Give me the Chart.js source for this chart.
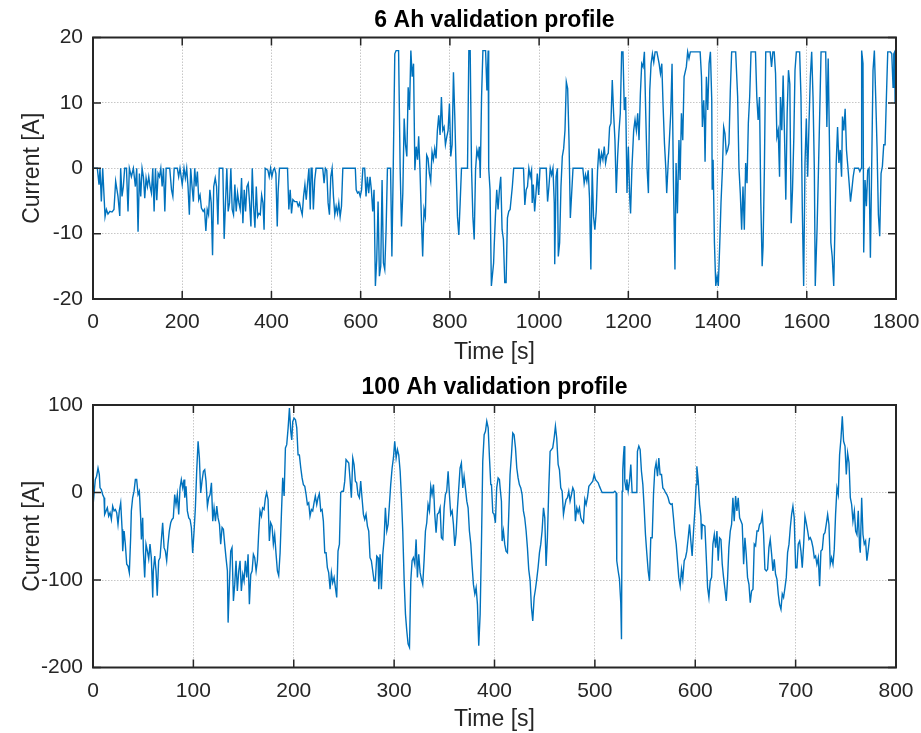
<!DOCTYPE html>
<html>
<head>
<meta charset="utf-8">
<script src="https://cdn.jsdelivr.net/npm/chart.js@4/dist/chart.umd.min.js"></script>
<style>
  html, body { margin: 0; padding: 0; background: #fff; }
  #wrap { position: relative; width: 921px; height: 733px; overflow: hidden; }
  canvas { position: absolute; left: 0; }
  #top { top: 0; }
  #bottom { top: 366px; }
</style>
</head>
<body>
<div id="wrap">
  <canvas id="top" width="921" height="366"></canvas>
  <canvas id="bottom" width="921" height="367"></canvas>
</div>
<script>

// [time s, current A]
const profile6Ah = [
  [0,0],[9.7,0],[13.5,-2.5],[15.7,0],[18.7,-5.1],[21.7,0],[27,-7.4],[30,-6.3],[33.6,-7],[38,-6.6],[42.6,-6.7],[47,-6.3],[50.8,-2],[56,-4.3],[60,-7.3],[62,0],[65,-4.3],[68,-2.8],[71,0],[75,0],[78.5,-6.6],[81.5,0],[86,-1.3],[90.5,0],[95,-2.8],[98,0],[101,-9.7],[104,-0.8],[107,-4.3],[110,0],[113,-1.3],[116,-4.6],[119,-1.5],[122,-2.8],[125,-1.3],[128,-2.8],[131,-3.8],[134,0],[137,-6.6],[140,0],[143,-4.9],[146,-0.8],[149,-1.3],[152,0],[155,-2.8],[158,0],[161,-6.6],[164,0],[172,0],[176,-3.3],[179,-4.3],[182,0],[189,0],[192,-1.3],[195,0],[200,-2.5],[204,0],[207,-1.5],[210,0],[213,-2.8],[216,-7.1],[219,0],[222,-2.8],[225,-5.1],[228,0],[231,-2.8],[234,-0.5],[237,-4.8],[240,-4.1],[243,-6.1],[247,-6.6],[250,-6.3],[253,-9.6],[256,-6.3],[259,-7.1],[262,-3.3],[265,-5.3],[268,-13.3],[270.6,-2.8],[274,-1.5],[277,-2.8],[280,-8.6],[283,0],[291,0],[294,-10.8],[297,-5.3],[300,0],[303,-6.6],[306,-5.3],[309,0],[312,-6.3],[315,-7.1],[318,-2.5],[321,-6.6],[324,-3.8],[327,-5.3],[330,-6.3],[333,-1.5],[336,-8.4],[339,-3.3],[342,-6.6],[345,-2.8],[348,-2.3],[351,-5.3],[354,-8.9],[357,0],[360,-5.8],[363,-9.1],[366,-2.8],[369,-7.4],[372,-6.9],[375,-7.1],[378,-4.1],[381,-5.3],[383.5,-9.4],[386,0],[392,-0.3],[395,-1.3],[398,0],[401,-1.3],[404,-0.3],[407,0],[410,-0.8],[413,-8.9],[415,-3.6],[418,0],[436,0],[439,-6.3],[442,-3.3],[445,-6.9],[448,-4.8],[452,-5.1],[457,-5.1],[460,-5.8],[463,-5.3],[466,-6.3],[469,-7.1],[472,-4.3],[475,-2.5],[478,-4.8],[481,-2.3],[484,0],[487,-6.3],[489,0],[491,0],[494,-6.3],[497,-1.8],[500,0],[515,0],[518,-2.3],[521,0],[524,-0.3],[527,-5.3],[530,-7.1],[533,-1.3],[536,0],[539,-4.3],[542,-7.1],[545,-5.8],[548,-6.9],[551,-5.3],[554,-7.4],[557,-5.8],[560,0],[588,0],[590,-3.3],[593,-3.8],[596,-3.6],[599,-4.3],[602,-3.3],[605,0],[609,0],[612,-4.3],[615,-1.3],[618,-3.8],[621,-1.3],[624,-3.3],[627,-6.6],[630,-3.3],[633,-18],[636,-14],[639,-5.1],[642,-16.5],[645,-15],[648,-1.8],[651,-14.5],[654,-15.5],[657,-9.4],[660,0],[667,0],[670,-13.5],[673,0],[676.5,17.5],[679.5,18],[685,18],[688.5,0],[691.5,-8.9],[694.5,-3.8],[697.5,7.6],[700.5,3.6],[703.5,1.8],[706.5,12.4],[709.5,8.9],[712.5,18],[715.5,14],[718.5,16],[721.5,-0.3],[724.5,3.3],[727.5,1.3],[730,4.9],[733,-0.3],[736,-7.4],[739,-13.5],[742,-6.3],[745,-7.4],[748,2],[751,1.5],[754,-0.8],[757,-2],[760,2.5],[763,1.3],[766,3],[769,1.5],[772,5.8],[775,8.1],[778,5.1],[781,10.9],[784,5.8],[787,6.3],[790,3.6],[793,4.8],[796,5.8],[799,9.9],[802,1.8],[805,3.6],[808,14.7],[811,7.9],[814,-0.3],[817,-7.4],[820,-10.2],[823,-5.3],[826,0],[839.5,0],[842.5,18],[845.5,18],[848.5,0],[851.5,-7.4],[854.5,-10.9],[857.5,-0.3],[860.5,2.8],[863.4,1.8],[866,3.3],[868,-1.5],[871,10.9],[874,18],[880,18],[883,11.9],[885.8,18],[887,0],[890,-3.3],[893,-18],[898,-14.5],[899.3,-11.9],[902,-7.4],[905,-3.3],[908,-6.3],[911,-3.3],[914,-1.3],[917,-9.4],[920,-10.9],[923,-17.5],[926,-17.5],[929,-7.6],[932,-6.6],[935,-6.3],[940,-2.8],[943,0],[965,0],[968,-5.6],[971,-3.3],[974,-2.8],[977,0],[980,-1.3],[983,-0.3],[984.5,-5.3],[987,-2.5],[990,-6.6],[993,-3.8],[996,-0.8],[999,-4.1],[1002,0],[1016,0],[1019,-5.1],[1022,-2.8],[1025,0],[1028,-1],[1031,0],[1034,-5.3],[1035,-14.7],[1038,-1.3],[1041,0],[1043,-13.5],[1046,-11.4],[1049,-2.8],[1052,1.8],[1055,3],[1058,5.8],[1061,13.2],[1064,12.2],[1067,4.3],[1070,-7.6],[1073,-3.8],[1076,0],[1098,0],[1101,-2.3],[1104,-1],[1107,-2],[1110,-0.3],[1113,-4.6],[1116,-15.5],[1119,0],[1122,-7.4],[1125,-9.4],[1128,-6.6],[1131,-0.3],[1134,3],[1137,0.8],[1140,2.3],[1143,1.3],[1146,3.3],[1149,0.8],[1152,2],[1155,2.3],[1158,6.3],[1161,6.9],[1164,13.5],[1167,8.4],[1170,4.3],[1173,-3.8],[1176,1.8],[1179,5.6],[1182,8.4],[1185,17.8],[1188,17.8],[1191,8.9],[1194,10.9],[1197,-3.8],[1200,3.3],[1203,-4.3],[1205,-6.9],[1208,0],[1212,5.8],[1215,7.4],[1218,5.8],[1221,8.4],[1224,4.3],[1227,11.4],[1230,16],[1233,15.5],[1236,17.8],[1239,8.4],[1242,0],[1245,-3.8],[1248,11.9],[1251,16],[1254,17.5],[1257,16.2],[1260,17.8],[1264,17.8],[1269,16],[1272,14.5],[1275,16],[1278,9.4],[1281,3.8],[1284,0],[1286,-3.8],[1289,0.3],[1292,4.3],[1295,8.4],[1298,16],[1301,-1.8],[1304.5,-15.5],[1307,0.8],[1310,-6.9],[1313.5,4.3],[1316,-1.8],[1319,8.4],[1322,4.3],[1325,14],[1330,15.5],[1333,17.8],[1336,16.8],[1339,17.8],[1361,17.8],[1364,14],[1366,6.3],[1369,10.4],[1370.5,7.4],[1372,1],[1375,14],[1378,8.9],[1381,16],[1384,17.8],[1387,10.4],[1388,-3.3],[1390,1.3],[1393,-11.4],[1396,-18],[1399,-16.5],[1401.7,-18],[1405,-11.4],[1407.7,-5.3],[1411,0],[1413.7,6.3],[1416.6,5.3],[1419.6,2.3],[1422.6,2.8],[1425.6,3.8],[1428.6,11.9],[1431.6,17.8],[1440.6,17.8],[1445,11],[1448,0],[1451,-3.8],[1454,-9.4],[1457,-2.8],[1460,-9.4],[1463,0.8],[1466,-2.3],[1469,6.9],[1472,10.9],[1475,17.8],[1485,17.8],[1488,10.9],[1491,7.4],[1494,10.9],[1497,-5.3],[1500,-15],[1502,-12],[1505,0],[1508,17.8],[1518,17.8],[1521,15.5],[1524,17.8],[1527,17.8],[1530,14.5],[1533,4.8],[1536,5.8],[1539,-1.3],[1541,10.9],[1544,5.8],[1547,14.2],[1550,5.3],[1553,-4.8],[1556,8.4],[1559,15],[1562,12.9],[1565,-8.4],[1568,-3.3],[1571,4.8],[1573.6,15],[1576.6,17.8],[1584,17.8],[1587,10.9],[1590,-6.3],[1593,-18],[1596,0.8],[1599,7.6],[1602,-1.3],[1605,6.9],[1608,14],[1611,17.8],[1614,10.9],[1617,-0.3],[1619,-18],[1623,-9.4],[1626,-0.8],[1629,8.4],[1632,17.8],[1642.4,17.8],[1645,6.3],[1648,16.8],[1651,3.3],[1654,-11.4],[1657,-13.5],[1660.4,-18],[1663,-9.4],[1666,0.8],[1669,6.3],[1672,0.8],[1675,2.8],[1678,-1.3],[1680,7.9],[1683,5.8],[1686,9.1],[1689,2.8],[1692,0.3],[1695,-2.3],[1698,-5.1],[1701,-3.3],[1704,-1.3],[1707,0],[1716,0],[1719,-0.5],[1722,0],[1723,18],[1726,16],[1727.6,-12.9],[1730.6,-1.8],[1733.6,-5.8],[1736.6,-0.3],[1739.6,0],[1742.6,-13.7],[1745.6,0.8],[1748.5,15],[1751.5,18],[1754.5,10.9],[1757.5,3.3],[1760.5,-7.1],[1763.5,-10.4],[1766.5,-0.8],[1769.5,0.3],[1772.5,3.6],[1775.5,3.6],[1778.5,10.9],[1781.5,17.8],[1787.5,17.8],[1790.5,17.5],[1793.4,12.4],[1795,17.5],[1797,17.8],[1798,10],[1800,10]
];

// [time s, current A]
const profile100Ah = [
  [0,-15.6],[1,-2.3],[2.3,14.8],[3.6,18.6],[5,28],[6.3,20.5],[7,5.3],[8.3,3.4],[9.6,-2.3],[11,-6],[11.6,-25],[13,-21],[14.3,-17.5],[15.6,-27],[17,-23],[18.3,-30.8],[19.6,-15.6],[21,-21],[22.3,-19.4],[23.6,-23],[24.9,-36.5],[26.2,-21],[27.6,-11.8],[29,-42],[29.6,-67],[31,-44],[32.2,-59],[33.6,-82],[34.9,-84],[36.2,-91.6],[37.5,-51.7],[38.2,-21],[39.5,-6],[40.9,1.5],[42.2,14.8],[43.5,14.8],[44.9,-2.3],[46.2,1.5],[47.5,-29],[48.2,-53.6],[49.5,-29],[50.2,-67],[51.5,-97],[52.8,-59],[54.2,-67],[55.5,-76],[56.8,-59],[58.1,-74.5],[59.5,-120],[60.1,-89.7],[61.5,-72.6],[62.8,-89.7],[64,-118],[65.4,-78],[66.8,-74.5],[68,-55.5],[69.4,-34.6],[70.8,-63],[72.1,-67],[73.4,-78],[74.7,-59],[76,-44],[77.4,-34.6],[78.7,-30.8],[80,-29],[81.4,-2.3],[82.7,-13.7],[84,-2.3],[85.4,-25],[86.7,5.3],[88,14.8],[89.4,5.3],[90.7,14.8],[91.4,-6],[92.7,7],[94,-21],[95.4,-29],[96.7,-30.8],[98,-40],[99.3,-69],[100.7,-44],[102,-17.5],[103.3,24.3],[104.7,58.5],[106,39.5],[107.3,-0.4],[108.6,13],[110,24.3],[111.3,26],[112.6,13],[114,-15.6],[115.3,-6],[116.6,-2.3],[118,11],[119.3,-32.7],[120.6,-17.5],[122,-32.7],[123.3,-15.6],[124.6,-29],[126,-36.5],[127.2,-59],[128.6,-40],[129.9,-42],[131.2,-59],[132.5,-74.5],[133.9,-89.7],[134.6,-148.7],[135.9,-105],[137.2,-67],[138.5,-63],[139.9,-124],[141.2,-105],[142.5,-78],[143.8,-112.5],[145.2,-89.7],[146.5,-78],[147.8,-112.5],[149.2,-93.5],[150.5,-101],[151.8,-78],[153.2,-97],[154.5,-70.7],[155.8,-127.8],[157.2,-93.5],[158.5,-89.7],[159.8,-70.7],[161.1,-74.5],[162.5,-89.7],[163.8,-78],[165,-48],[166.4,-21],[167.8,-27],[169,-17.5],[170.4,-19.4],[171.8,-6],[173,0],[174.4,-8],[175.7,-55.5],[177,-34.6],[178.4,-38.4],[179.7,-59],[181,-48],[182.4,-70.7],[183.7,-89.7],[185,-95],[186.4,-68.8],[187.7,-25],[189,16.7],[190.4,-4],[191.7,51],[193,54.7],[194.4,73.8],[195.7,96.6],[197,70],[198,60],[199,81],[200.3,85],[201.7,83],[203,74],[204.3,43],[205.6,43],[207,28],[208.3,16.7],[209.6,9],[211,7],[212.3,-2.3],[213.6,-13.7],[214.9,-11.8],[216.2,-27],[217.6,-19.4],[218.9,-21],[220.2,-11.8],[221.5,-4],[222.9,-13.7],[224.2,-6],[225.5,-1.5],[226.9,-21],[228.2,-19.4],[229.5,-32.7],[230.9,-68.8],[232.2,-68.8],[233.5,-86],[234.8,-91.6],[236.2,-110.6],[237.5,-91.6],[238.8,-103],[240.2,-97],[241.5,-108.7],[242.8,-120],[244.1,-67],[245.5,-59],[246.8,0],[248.1,1.5],[249.5,1.5],[250.8,13],[252.1,37.6],[253.4,35.7],[254.8,33.8],[256.1,14.8],[257.4,-6],[258.8,39.5],[260.1,32],[261.4,13],[262.7,11],[264,-2.3],[265.4,-6],[266.7,13],[268,-6],[269.4,-25],[270.7,-30.8],[272,-25],[273.4,-38.4],[274.7,-44],[276,-74.5],[277.3,-78],[278.7,-89.7],[280,-101],[281.3,-101],[282.7,-72.6],[284,-74.5],[284.7,-110.6],[286,-70.7],[287.3,-110.6],[288.7,-70.7],[290,-53.6],[291.3,-17.5],[292.7,-44],[294,-36.5],[295.3,-13.7],[296.6,9],[298,28],[299.3,39.5],[300.6,58.5],[302,39.5],[303.3,49],[304.6,43],[306,24.3],[307.3,-6],[308.6,-44],[310,-101],[311.3,-139],[312.6,-158],[313.9,-173],[315.3,-177],[316.6,-101],[317.9,-78],[319.2,-74.5],[320.6,-82],[321.9,-53.6],[323.2,-97],[324.5,-70.7],[325.9,-91.6],[327.2,-99],[328.5,-105],[329.9,-76.4],[331.2,-44],[332.5,-34.6],[333.8,-13.7],[335.2,-21],[336.5,7],[337.8,-2.3],[339.2,9],[340.5,-25],[341.8,-46],[343.1,-25],[344.5,-23],[345.8,-17.5],[347.1,-51.7],[348.5,-53.6],[349.8,-17.5],[351.1,-2.3],[352.4,1.5],[353.8,24.3],[355.1,-2.3],[356.4,-25],[357.8,-21],[359.1,-36.5],[360.4,-61],[361.7,-48],[363.1,-17.5],[364.4,5.3],[365.7,28],[367,33.8],[368.4,5.3],[369.7,18.6],[371,5.3],[372.4,-9.9],[373.7,-17.5],[375,-44],[376.4,-59],[377.7,-84],[379,-105],[380.4,-116],[381.7,-108.7],[383,-127.8],[384.3,-175],[385.7,-139],[387,-59],[388.3,35.7],[389.7,66],[391,70],[392.3,81.4],[393.7,73.8],[395,39.5],[396.3,9],[397,9],[398.3,-23],[399.6,-25],[400.9,-34.6],[402.2,5.3],[403.6,16.7],[404.9,14.8],[405.6,5.3],[406.9,-10],[407.6,-55.5],[408.9,-44],[410.2,-59],[411.5,-67],[412.9,-68.8],[414.2,-25],[415.5,20.5],[416.9,43],[418.2,68],[419.5,66],[420.9,51],[422.2,28],[423.5,16.7],[424.8,9],[426.2,5.3],[427.5,-2.3],[428.8,-21],[430.1,-28.9],[431.5,-44],[432.8,-63],[434.1,-87.8],[435.5,-101],[436.8,-131.5],[438.1,-146.8],[439.5,-120],[440.8,-110.6],[442.1,-99],[443.4,-86],[444.8,-68.8],[446.1,-59],[447.4,-44],[448.8,-17.5],[450.1,-28.9],[451.4,-84],[452.7,-51.7],[454.1,5.3],[455.4,47],[456.7,49],[458,51],[459.4,62],[460.7,75.7],[462,62],[463.4,32],[464.7,26],[466,5.3],[467.4,1.5],[468.7,-25],[470,-15.6],[471.3,-8],[472.7,-6],[474,1.5],[475.3,-9.9],[476.7,-2.3],[478,5.3],[479.3,1.5],[480.6,-32.7],[482,-17.5],[483.3,-23],[484.6,-17.5],[486,-28.9],[487.3,-32.7],[488.6,-34.6],[490,-8],[491.3,-13.7],[492.6,-6],[494,7],[495.3,9],[496.6,11],[497.9,13],[499.3,20.5],[500.6,14.8],[501.9,13],[503.3,11],[504.6,7],[505.9,3.4],[507.2,0],[518.5,0],[519.9,1.5],[521.2,-0.4],[521.8,-78],[523.2,-89.7],[524.5,-99],[525.8,-126],[526.5,-167.7],[527.2,1.5],[527.8,26],[528.5,41.8],[529.2,53],[529.8,13],[531.2,3.4],[531.8,15],[533.2,1.5],[534.5,13],[535.8,32],[537.1,0],[541.8,0],[542.4,47],[543.8,53],[545.1,49],[546.4,24.3],[547.8,9],[549.1,-17.5],[550.4,-48],[551.7,-68.8],[553.1,-89.7],[554.4,-101],[555.7,-51.7],[557.1,-51.7],[558.4,-2.3],[559.7,26],[561,34],[562.4,18.6],[563.7,39.5],[565,20.5],[566.4,20.5],[567.7,5.3],[569,3.4],[570.3,0],[571.7,-2.3],[573,-6],[574.3,-11.8],[575.7,-13.7],[577,-13],[578.3,-28.9],[579.7,-48],[581,-59],[582.3,-78],[583.6,-97],[585,-107],[586.3,-88],[587.6,-99],[589,-78],[590.3,-74.5],[591.6,-67],[593,-51.7],[594.3,-36.5],[595.6,-55.5],[596.9,-72.6],[598.3,-44],[599.6,-21],[600.9,9],[601.6,30],[603,13],[604.3,-13.7],[605.6,-27],[606.3,-53.6],[607,-36.5],[609.6,-38.4],[611,-74.5],[612.3,-108.7],[613.6,-120],[614.9,-101],[616.3,-97],[617.6,-59],[619,-48],[620.3,-63],[621.6,-44],[622.9,-78],[624.2,-51.7],[625.6,-53.6],[626.9,-82],[628.2,-97],[629.6,-110.6],[630.9,-124],[632.2,-99],[633.5,-63],[634.9,-44],[636.2,-36.5],[637.5,-6],[638.8,-32.7],[640.2,-4],[641.5,-21],[642.8,-6],[644.2,-29],[645.5,-32.7],[646.8,-36.5],[648.2,-82],[649.5,-51.7],[650.8,-70.7],[652.1,-97],[653.5,-105],[654.8,-126],[656.1,-112.5],[657.5,-110.6],[658.8,-59],[660.1,-61],[661.5,-44],[662.8,-44],[664.1,-36.5],[665.5,-34.6],[666.8,-25],[668.1,-48],[669.4,-87.8],[670.8,-89.7],[672.1,-87.8],[673.4,-63],[674.7,-53.6],[676.1,-70.7],[677.4,-89.7],[678.7,-76.4],[680,-93.5],[681.4,-99],[682.7,-116],[684,-127.8],[685.4,-133.5],[686.7,-116],[688,-120],[689.4,-108.7],[690.7,-97],[692,-68.8],[693.4,-59],[694.7,-40],[696,-25],[697.3,-15.6],[698.6,-29],[700,-86],[701.3,-86],[702.6,-59],[704,-55.5],[705.3,-67],[706.6,-86],[708,-59],[709.3,-27],[710.6,-34.6],[712,-44],[713.3,-53.6],[714.6,-51.7],[715.9,-55.5],[717.3,-63],[718.6,-74.5],[719.9,-72.6],[721.2,-82],[722.6,-74.5],[723.9,-107],[725.2,-67],[726.6,-65],[727.9,-48],[729.2,-46],[730.5,-36.5],[731.9,-25],[733.2,-36.5],[734.5,-82],[735.8,-74.5],[737.2,-82],[738.5,-65],[739.8,-25],[741.2,5.3],[742.5,-2.3],[743.8,43],[745.2,62],[746.5,87],[747.8,58.5],[749.2,53],[750.5,20.5],[751.8,45],[753.2,34],[754.5,-6],[755.8,-13.7],[757.1,-32.7],[758.5,-21],[759.8,-44],[761.1,-48],[762.4,-21],[763.7,-61],[764.4,-68.8],[765.8,-6],[767.1,-48],[768.4,-59],[769.7,-55.5],[771,-78],[772.4,-65],[773.7,-51.7]
];

const titles = ['6 Ah validation profile', '100 Ah validation profile'];
const xRange6Ah = [0, 1800], xStep6Ah = 200;
const yRange6Ah = [-20, 20], yStep6Ah = 10;
const xRange100Ah = [0, 800], xStep100Ah = 100;
const yRange100Ah = [-200, 100], yStep100Ah = 100;

const FONT = "'Liberation Sans', Arial, Helvetica, sans-serif";
const INK = '#262626';
const TICK_LEN = 8;

// matlab style box with inward ticks on all four sides
const boxTicks = {
  id: 'boxTicks',
  afterDatasetsDraw(chart) {
    const { ctx, chartArea: a, scales: { x, y } } = chart;
    ctx.save();
    ctx.strokeStyle = INK;
    ctx.lineWidth = 1.5;
    ctx.beginPath();
    x.ticks.forEach(t => {
      const px = x.getPixelForValue(t.value);
      ctx.moveTo(px, a.bottom); ctx.lineTo(px, a.bottom - TICK_LEN);
      ctx.moveTo(px, a.top); ctx.lineTo(px, a.top + TICK_LEN);
    });
    y.ticks.forEach(t => {
      const py = y.getPixelForValue(t.value);
      ctx.moveTo(a.left, py); ctx.lineTo(a.left + TICK_LEN, py);
      ctx.moveTo(a.right, py); ctx.lineTo(a.right - TICK_LEN, py);
    });
    ctx.stroke();
    ctx.lineWidth = 2;
    ctx.strokeRect(a.left, a.top, a.right - a.left, a.bottom - a.top);
    ctx.restore();
  }
};

function makeChart(id, title, points, xr, xs, yr, ys, titlePad, xHeight) {
  return new Chart(document.getElementById(id), {
    type: 'line',
    data: {
      datasets: [{
        data: points.map(p => ({ x: p[0], y: p[1] })),
        borderColor: '#0072BD',
        borderWidth: 1.4,
        pointRadius: 0,
        tension: 0,
        fill: false
      }]
    },
    options: {
      responsive: false,
      animation: false,
      devicePixelRatio: 1,
      layout: { padding: { left: 0, right: 25, top: 0, bottom: 0 } },
      plugins: {
        legend: { display: false },
        tooltip: { enabled: false },
        title: {
          display: true,
          text: title,
          fullSize: false,
          color: '#000',
          font: { family: FONT, size: 23, weight: 'bold', lineHeight: 1.2 },
          padding: titlePad
        }
      },
      scales: {
        x: {
          type: 'linear',
          min: xr[0], max: xr[1],
          afterFit: s => { s.height = xHeight; s.paddingLeft = 0; s.paddingRight = 0; },
          ticks: {
            stepSize: xs, autoSkip: false, maxRotation: 0,
            color: INK, padding: 11,
            font: { family: FONT, size: 21 },
            callback: v => String(v)
          },
          grid: { color: 'rgba(0,0,0,0.22)', lineWidth: 1, drawTicks: false },
          border: { display: false, dash: [1.5, 1.5] },
          title: {
            display: true, text: 'Time [s]', color: INK,
            font: { family: FONT, size: 23 },
            padding: { top: 0, bottom: 0 }
          }
        },
        y: {
          type: 'linear',
          min: yr[0], max: yr[1],
          afterFit: s => { s.width = 93; s.paddingTop = 0; s.paddingBottom = 0; },
          ticks: {
            stepSize: ys, autoSkip: false,
            color: INK, padding: 10,
            font: { family: FONT, size: 21 },
            callback: v => String(v)
          },
          grid: { color: 'rgba(0,0,0,0.22)', lineWidth: 1, drawTicks: false },
          border: { display: false, dash: [1.5, 1.5] },
          title: {
            display: true, text: 'Current [A]', color: INK,
            font: { family: FONT, size: 23 },
            padding: { top: 19, bottom: 0 }
          }
        }
      }
    },
    plugins: [boxTicks]
  });
}

makeChart('top', titles[0], profile6Ah, xRange6Ah, xStep6Ah, yRange6Ah, yStep6Ah, { top: 6.5, bottom: 3.4 }, 67);
makeChart('bottom', titles[1], profile100Ah, xRange100Ah, xStep100Ah, yRange100Ah, yStep100Ah, { top: 8, bottom: 3.4 }, 65.5);
</script>
</body>
</html>
